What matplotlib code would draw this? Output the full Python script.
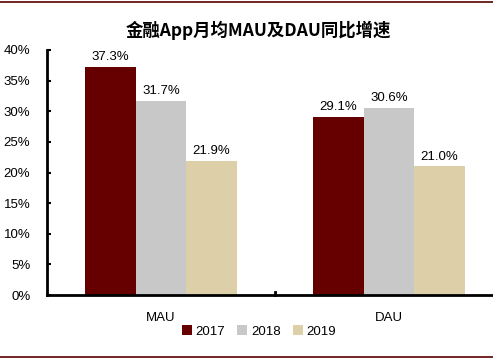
import numpy as np
import matplotlib.pyplot as plt
from matplotlib.lines import Line2D

plt.rcParams['font.family'] = ['Noto Sans CJK SC', 'DejaVu Sans']

categories = ['MAU', 'DAU']
years = ['2017', '2018', '2019']
growth = {
    '2017': [37.3, 29.1],
    '2018': [31.7, 30.6],
    '2019': [21.9, 21.0],
}
colors = {'2017': '#660000', '2018': '#C8C8C8', '2019': '#DDD0A8'}

fig = plt.figure(figsize=(4.93, 3.58), dpi=100)
W, H = 493, 358
ax = fig.add_axes([47 / W, 1 - 295 / H, (493 - 47) / W, (295 - 50) / H])

x = np.arange(len(categories))
bw = 0.222
for i, y in enumerate(years):
    pos = x + (i - 1) * bw
    ax.bar(pos, growth[y], width=bw, color=colors[y], label=y)
    for p, v in zip(pos, growth[y]):
        ax.text(p, v + 0.6, f'{v:.1f}%', ha='center', va='bottom',
                fontsize=9.5, family=['Liberation Sans', 'DejaVu Sans'])

ax.set_xlim(-0.5, 1.456)
ax.set_ylim(0, 40)
ax.set_yticks(np.arange(0, 41, 5))
ax.set_yticklabels([f'{t}%' for t in range(0, 41, 5)],
                   family=['Liberation Sans', 'DejaVu Sans'], fontsize=9.5)
ax.set_xticks(x)
ax.set_xticklabels(categories, family=['Liberation Sans', 'DejaVu Sans'], fontsize=9.5)
ax.tick_params(axis='x', length=0, pad=12)
ax.tick_params(axis='y', direction='in', length=3, width=1.5, pad=12)
for s in ['top', 'right']:
    ax.spines[s].set_visible(False)
for s in ['left', 'bottom']:
    ax.spines[s].set_linewidth(2)
# separator tick between the two categories
ax.plot([0.5, 0.5], [0, 0.5], color='black', lw=2, clip_on=False)

ax.legend(loc='upper center', bbox_to_anchor=(259 / W, 1 - 316 / H),
          bbox_transform=fig.transFigure, ncol=3, frameon=False,
          handlelength=0.75, handleheight=0.75, handletextpad=0.3,
          columnspacing=0.9, borderpad=0.2,
          prop={'family': 'Liberation Sans', 'size': 9.5})

fig.text(258 / W, 1 - 30 / H, '金融App月均MAU及DAU同比增速', ha='center', va='center',
         fontsize=12.5, fontweight='bold')

# thin dark red frame lines at top and bottom
fig.add_artist(Line2D([0, 1], [1 - 1.5 / H, 1 - 1.5 / H], color='#5A0000', lw=1.2))
fig.add_artist(Line2D([0, 1], [1 - 357 / H, 1 - 357 / H], color='#5A0000', lw=1.2))

fig.savefig('out.png', dpi=100)
